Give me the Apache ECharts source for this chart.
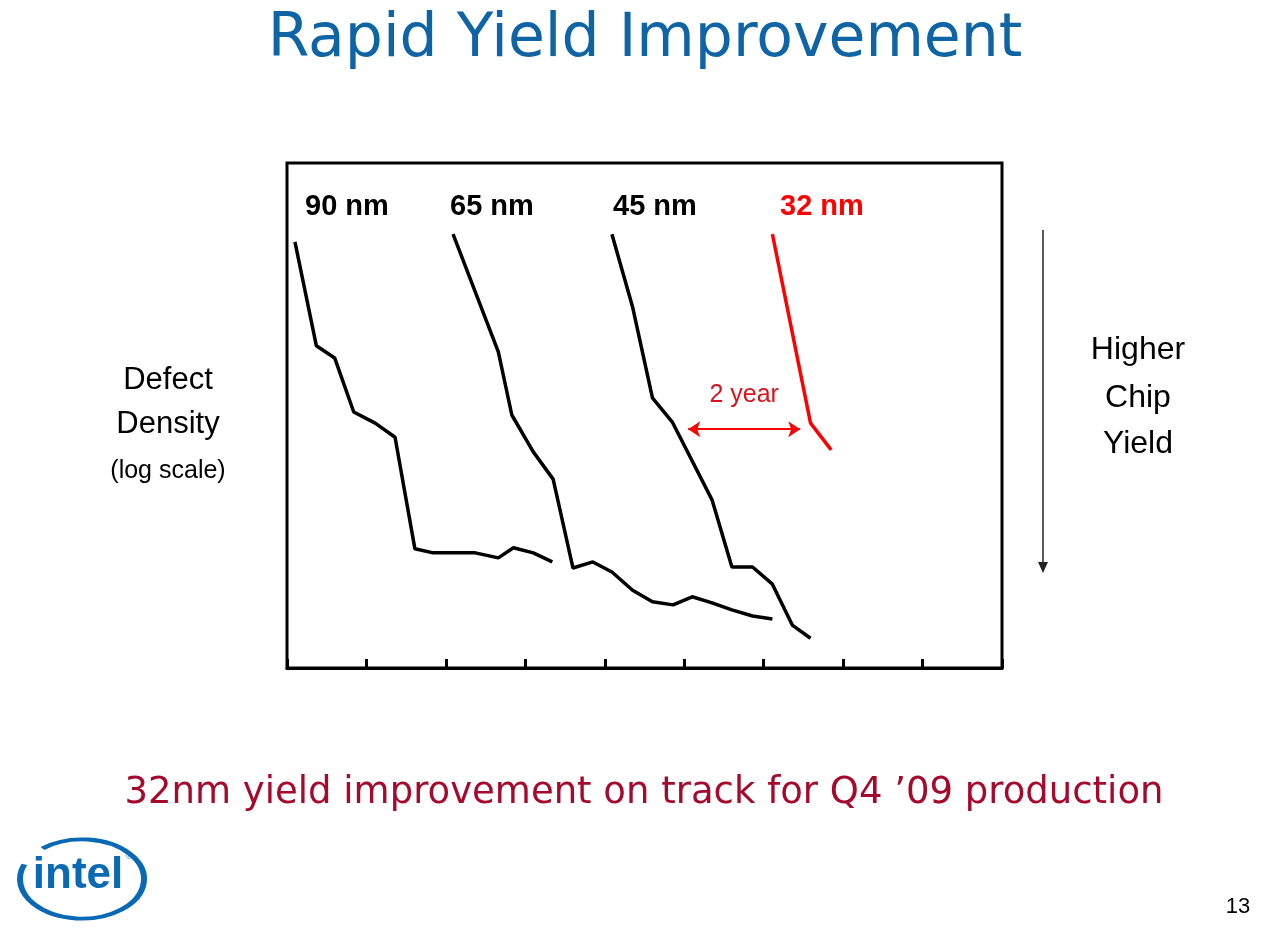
<!DOCTYPE html>
<html>
<head>
<meta charset="utf-8">
<style>
  html, body { margin: 0; padding: 0; background: #fff; }
  #chart { width: 1280px; height: 936px; }
</style>
<script src="https://cdn.jsdelivr.net/npm/echarts/dist/echarts.min.js"></script>
</head>
<body>
<div id="chart"></div>
<script>
// x: years-ish ticks (0..9), y: relative defect density position (log scale, no labels)
var nm90X = [0.10, 0.37, 0.60, 0.84, 1.11, 1.36, 1.61, 1.84, 2.37, 2.66, 2.85, 3.10, 3.34];
var nm90Y = [84.4, 63.8, 61.4, 50.7, 48.5, 45.7, 23.6, 22.8, 22.8, 21.8, 23.8, 22.8, 21.0];

var nm65X = [2.09, 2.66, 2.83, 3.10, 3.35, 3.60, 3.85, 4.09, 4.35, 4.60, 4.86, 5.10, 5.35, 5.60, 5.86, 6.11];
var nm65Y = [85.9, 62.6, 50.1, 42.8, 37.4, 19.8, 21.0, 19.0, 15.4, 13.1, 12.5, 14.1, 12.9, 11.5, 10.3, 9.7];

var nm45X = [4.09, 4.35, 4.60, 4.85, 5.35, 5.60, 5.86, 6.11, 6.36, 6.59];
var nm45Y = [85.9, 71.5, 53.5, 48.7, 33.3, 20.0, 20.0, 16.6, 8.5, 5.9];

var nm32X = [6.11, 6.59, 6.85];
var nm32Y = [85.9, 48.5, 43.2];

var gapFrom = [5.05, 47.3];
var gapTo = [6.46, 47.3];

function pairs(xs, ys) {
    var out = [];
    for (var i = 0; i < xs.length; i++) {
        out.push([xs[i], ys[i]]);
    }
    return out;
}

var chart = echarts.init(document.getElementById('chart'));

var lineBase = {
    type: 'line',
    symbol: 'none',
    animation: false,
    silent: true
};

var option = {
    backgroundColor: '#ffffff',
    animation: false,
    grid: {
        left: 287,
        top: 163,
        width: 715,
        height: 505,
        show: true,
        borderColor: '#000',
        borderWidth: 3,
        backgroundColor: 'transparent'
    },
    xAxis: {
        type: 'value',
        min: 0,
        max: 9,
        interval: 1,
        axisLine: { show: true, lineStyle: { color: '#000', width: 3 } },
        axisTick: { show: true, inside: true, length: 9, lineStyle: { color: '#000', width: 3 } },
        axisLabel: { show: false },
        splitLine: { show: false }
    },
    yAxis: {
        type: 'value',
        min: 0,
        max: 100,
        axisLine: { show: false },
        axisTick: { show: false },
        axisLabel: { show: false },
        splitLine: { show: false }
    },
    series: [
        Object.assign({}, lineBase, {
            name: '90 nm',
            data: pairs(nm90X, nm90Y),
            lineStyle: { color: '#000', width: 3.5 }
        }),
        Object.assign({}, lineBase, {
            name: '65 nm',
            data: pairs(nm65X, nm65Y),
            lineStyle: { color: '#000', width: 3.5 }
        }),
        Object.assign({}, lineBase, {
            name: '45 nm',
            data: pairs(nm45X, nm45Y),
            lineStyle: { color: '#000', width: 3.5 }
        }),
        Object.assign({}, lineBase, {
            name: '32 nm',
            data: pairs(nm32X, nm32Y),
            lineStyle: { color: '#ff0000', width: 3.5 },
            markLine: {
                silent: true,
                animation: false,
                symbol: ['arrow', 'arrow'],
                symbolSize: [12, 12],
                lineStyle: { color: '#ff0000', width: 2, type: 'solid' },
                label: {
                    show: true,
                    position: 'middle',
                    formatter: '2 year',
                    color: '#d9141c',
                    fontSize: 25,
                    fontFamily: 'Liberation Sans, Arial',
                    distance: 22
                },
                data: [[{ coord: gapFrom }, { coord: gapTo }]]
            }
        })
    ],
    graphic: [
        // title
        {
            type: 'text', x: 645, y: 40,
            style: { text: 'Rapid Yield Improvement', fill: '#0f64a6', font: '60px "DejaVu Sans", Verdana, sans-serif', textAlign: 'center', textVerticalAlign: 'middle' }
        },
        // series labels
        { type: 'text', x: 305, y: 207, style: { text: '90 nm', fill: '#000', font: 'bold 29px "Liberation Sans", Arial', textVerticalAlign: 'middle' } },
        { type: 'text', x: 450, y: 207, style: { text: '65 nm', fill: '#000', font: 'bold 29px "Liberation Sans", Arial', textVerticalAlign: 'middle' } },
        { type: 'text', x: 613, y: 207, style: { text: '45 nm', fill: '#000', font: 'bold 29px "Liberation Sans", Arial', textVerticalAlign: 'middle' } },
        { type: 'text', x: 780, y: 207, style: { text: '32 nm', fill: '#ff0000', font: 'bold 29px "Liberation Sans", Arial', textVerticalAlign: 'middle' } },
        // left axis label
        { type: 'text', x: 168, y: 380, style: { text: 'Defect', fill: '#000', font: '31px "Liberation Sans", Arial', textAlign: 'center', textVerticalAlign: 'middle' } },
        { type: 'text', x: 168, y: 424, style: { text: 'Density', fill: '#000', font: '31px "Liberation Sans", Arial', textAlign: 'center', textVerticalAlign: 'middle' } },
        { type: 'text', x: 168, y: 471, style: { text: '(log scale)', fill: '#000', font: '25px "Liberation Sans", Arial', textAlign: 'center', textVerticalAlign: 'middle' } },
        // right arrow and label
        { type: 'line', shape: { x1: 1043, y1: 230, x2: 1043, y2: 563 }, style: { stroke: '#222', lineWidth: 1.5 } },
        { type: 'polygon', shape: { points: [[1038, 562], [1048, 562], [1043, 573]] }, style: { fill: '#222' } },
        { type: 'text', x: 1138, y: 350, style: { text: 'Higher', fill: '#000', font: '32px "Liberation Sans", Arial', textAlign: 'center', textVerticalAlign: 'middle' } },
        { type: 'text', x: 1138, y: 398, style: { text: 'Chip', fill: '#000', font: '32px "Liberation Sans", Arial', textAlign: 'center', textVerticalAlign: 'middle' } },
        { type: 'text', x: 1138, y: 444, style: { text: 'Yield', fill: '#000', font: '32px "Liberation Sans", Arial', textAlign: 'center', textVerticalAlign: 'middle' } },
        // subtitle
        {
            type: 'text', x: 644, y: 793,
            style: { text: '32nm yield improvement on track for Q4 \u201909 production', fill: '#a50a2d', font: '37px "DejaVu Sans", Verdana, sans-serif', textAlign: 'center', textVerticalAlign: 'middle' }
        },
        // intel logo
        {
            type: 'arc', x: 82, y: 879, scaleY: 0.64,
            shape: { cx: 0, cy: 0, r: 62, startAngle: -Math.PI * 0.72, endAngle: Math.PI * 1.12 },
            style: { stroke: '#0a69b4', lineWidth: 6, fill: null }
        },
        { type: 'text', x: 78, y: 876, style: { text: 'intel', fill: '#0a69b4', font: 'bold 44px "Liberation Sans", Arial', textAlign: 'center', textVerticalAlign: 'middle' } },
        { type: 'text', x: 126, y: 857, style: { text: '\u00ae', fill: '#0a69b4', font: '9px "Liberation Sans", Arial', textVerticalAlign: 'middle' } },
        // page number
        { type: 'text', x: 1238, y: 907, style: { text: '13', fill: '#000', font: '22px "Liberation Sans", Arial', textAlign: 'center', textVerticalAlign: 'middle' } }
    ]
};

chart.setOption(option);
</script>
</body>
</html>
